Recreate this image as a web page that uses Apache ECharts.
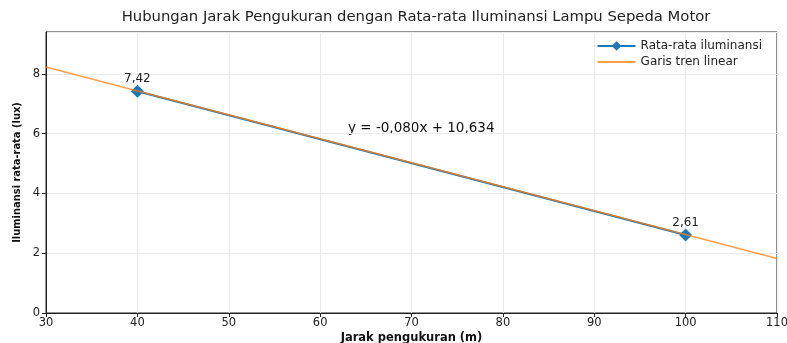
<!DOCTYPE html>
<html><head><meta charset="utf-8">
<script src="https://cdn.jsdelivr.net/npm/echarts@6/dist/echarts.min.js"></script>
<style>html,body{margin:0;padding:0;background:#fff}#c{width:787px;height:343px}</style>
</head><body><div id="c"></div>
<script>
const titleText = 'Hubungan Jarak Pengukuran dengan Rata-rata Iluminansi Lampu Sepeda Motor';
const xName = 'Jarak pengukuran (m)';
const yName = 'Iluminansi rata-rata (lux)';
const distances = [40, 100];
const illuminance = [7.42, 2.61];
const trendX = [30, 110];
const trendY = [8.23, 1.82];
const equationText = 'y = -0,080x + 10,634';
const seriesNames = ['Rata-rata iluminansi', 'Garis tren linear'];

const chart = echarts.init(document.getElementById('c'));
const font = 'DejaVu Sans';
chart.setOption({
  animation: false,
  textStyle: {fontFamily: font},
  title: {text: titleText, left: 411, textAlign: 'center', top: 5,
    textStyle: {fontFamily: font, fontSize: 14.8, fontWeight: 'normal', color: '#222'}},
  grid: {left: 46, right: 10, top: 32, bottom: 30, show: true, borderColor: '#222', borderWidth: 1,
    outerBoundsMode: 'none', containLabel: false},
  legend: {
    right: 20, top: 35, orient: 'vertical', itemGap: 4, itemWidth: 38, itemHeight: 12,
    textStyle: {fontFamily: font, fontSize: 12, color: '#222'},
    data: [
      {name: seriesNames[0]},
      {name: seriesNames[1], itemStyle: {opacity: 0}}
    ]
  },
  xAxis: {
    type: 'value', min: 30, max: 110, interval: 10,
    name: xName, nameLocation: 'middle', nameGap: 19, nameMoveOverlap: false,
    nameTextStyle: {fontFamily: font, fontSize: 11.5, fontWeight: 'bold', color: '#111'},
    axisLine: {lineStyle: {color: '#222'}},
    axisTick: {show: true, length: 4, lineStyle: {color: '#222'}},
    axisLabel: {fontFamily: font, fontSize: 11.5, color: '#222', margin: 4},
    splitLine: {show: true, lineStyle: {color: '#ebebeb', width: 1}}
  },
  yAxis: {
    type: 'value', min: 0, max: 9.4, interval: 2,
    name: yName, nameLocation: 'middle', nameGap: 23, nameRotate: 90, nameMoveOverlap: false,
    nameTextStyle: {fontFamily: 'DejaVu Sans Condensed', fontSize: 11, fontWeight: 'bold', color: '#111'},
    axisLine: {show: true, lineStyle: {color: '#222'}},
    axisTick: {show: true, length: 4, lineStyle: {color: '#222'}},
    axisLabel: {fontFamily: font, fontSize: 11.5, color: '#222', margin: 6, showMaxLabel: false,
      formatter: v => (v % 2 === 0 ? String(v) : '')},
    splitLine: {show: true, lineStyle: {color: '#ebebeb', width: 1}}
  },
  graphic: [{
    type: 'text', left: 348, top: 121,
    style: {text: equationText, fontFamily: font, fontSize: 13.5, fill: '#111'}
  }],
  series: [
    {
      name: seriesNames[0], type: 'line',
      data: distances.map((d, i) => [d, illuminance[i]]),
      symbol: 'diamond', symbolSize: 13,
      lineStyle: {color: '#1f77b4', width: 2.2},
      itemStyle: {color: '#1f77b4'},
      label: {show: true, position: 'top', distance: 0, fontFamily: font, fontSize: 12, color: '#222',
        formatter: p => p.value[1].toFixed(2).replace('.', ',')},
      z: 2
    },
    {
      name: seriesNames[1], type: 'line',
      data: trendX.map((d, i) => [d, trendY[i]]),
      symbol: 'none',
      lineStyle: {color: '#ff7f0e', width: 1.5, opacity: 0.75},
      itemStyle: {color: '#ff7f0e'},
      z: 3
    }
  ]
});
</script></body></html>
